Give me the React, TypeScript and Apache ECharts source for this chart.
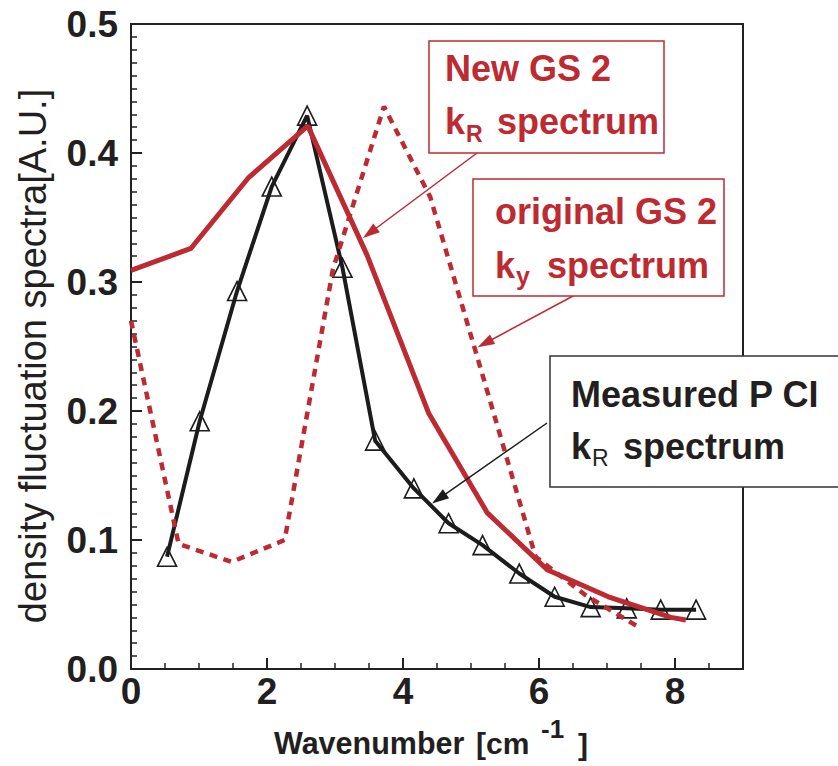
import React, { useEffect, useRef } from 'react';
import * as echarts from 'echarts';

// Measured PCI kR spectrum (black, triangles)
const measuredX = [0.53, 1.01, 1.56, 2.07, 2.59, 3.11, 3.59, 4.16, 4.67, 5.17, 5.71, 6.23, 6.76, 7.29, 7.79, 8.31];
const measuredY = [0.087, 0.192, 0.293, 0.374, 0.429, 0.311, 0.177, 0.140, 0.113, 0.096, 0.074, 0.056, 0.048, 0.047, 0.046, 0.046];

// New GS2 kR spectrum (red solid)
const newGs2X = [0, 0.88, 1.73, 2.60, 3.47, 4.38, 5.24, 6.12, 7.02, 7.94, 8.16];
const newGs2Y = [0.309, 0.326, 0.381, 0.421, 0.321, 0.198, 0.121, 0.077, 0.056, 0.040, 0.038];

// original GS2 ky spectrum (red dotted)
const origGs2X = [0, 0.70, 1.48, 2.26, 2.97, 3.72, 4.40, 5.18, 5.95, 6.69, 7.45];
const origGs2Y = [0.270, 0.097, 0.083, 0.100, 0.310, 0.436, 0.366, 0.226, 0.087, 0.057, 0.033];

// annotation arrow tips (data coords)
const arrowTipNew = [3.511, 0.338];
const arrowTipOrig = [5.207, 0.2525];
const arrowTipMeasured = [4.53, 0.1321];

const xTickLabels = ['0', '2', '4', '6', '8'];
const yTickLabels = ['0.0', '0.1', '0.2', '0.3', '0.4', '0.5'];

const RED = '#be2a32';
const INK = '#231f20';
const FONT = 'Liberation Sans, Arial, sans-serif';

export default function App() {
  const ref = useRef<HTMLDivElement>(null);
  useEffect(() => {
    if (!ref.current) return;
    const chart = echarts.init(ref.current, undefined, { renderer: 'svg' });
    const pair = (xs: number[], ys: number[]) => xs.map((x, i) => [x, ys[i]]);
    const boldText = (text: string, x: number, y: number, size: number, fill: string, weight = 'bold') => ({
      type: 'text',
      x,
      y,
      z: 101,
      style: {
        text,
        fontSize: size,
        fontWeight: weight,
        fontFamily: FONT,
        fill,
        textAlign: 'left',
        textVerticalAlign: 'middle',
      },
    });
    const option: any = {
      animation: false,
      backgroundColor: '#ffffff',
      grid: {
        left: 131,
        right: 95,
        top: 24,
        bottom: 97,
        show: true,
        borderColor: '#222',
        borderWidth: 2,
        backgroundColor: 'transparent',
      },
      xAxis: [
        {
          type: 'value',
          position: 'bottom',
          min: 0,
          max: 9,
          interval: 2,
          axisLine: { show: true, onZero: false, lineStyle: { color: '#222', width: 2 } },
          axisTick: { show: true, inside: true, length: 11, lineStyle: { color: '#222', width: 2 } },
          axisLabel: {
            show: true,
            margin: 4,
            showMaxLabel: false,
            fontSize: 37,
            fontWeight: 'bold',
            fontFamily: FONT,
            color: INK,
            formatter: (v: number) => xTickLabels[Math.round(v / 2)] ?? '',
          },
          splitLine: { show: false },
        },
        {
          type: 'value',
          position: 'bottom',
          min: 0,
          max: 9,
          interval: 0.5,
          axisLine: { show: false },
          axisTick: { show: true, inside: true, length: 6, lineStyle: { color: '#222', width: 1.5 } },
          axisLabel: { show: false },
          splitLine: { show: false },
        },
      ],
      yAxis: {
        type: 'value',
        min: 0,
        max: 0.5,
        interval: 0.1,
        axisLine: { show: true, onZero: false, lineStyle: { color: '#222', width: 2 } },
        axisTick: { show: true, inside: true, length: 11, lineStyle: { color: '#222', width: 2 } },
        minorTick: { show: true, splitNumber: 10, length: 6, lineStyle: { color: '#222', width: 1.5 } },
        axisLabel: {
          margin: 13,
          fontSize: 37,
          fontWeight: 'bold',
          fontFamily: FONT,
          color: INK,
          formatter: (v: number) => yTickLabels[Math.round(v * 10)] ?? '',
        },
        splitLine: { show: false },
      },
      series: [
        {
          type: 'line',
          name: 'Measured PCI kR spectrum',
          xAxisIndex: 0,
          data: pair(measuredX, measuredY),
          symbol: 'triangle',
          symbolSize: [19, 19],
          showSymbol: true,
          showAllSymbol: true,
          lineStyle: { color: '#1c1c1c', width: 4 },
          itemStyle: { color: 'rgba(0,0,0,0)', borderColor: '#1c1c1c', borderWidth: 1.6 },
          z: 2,
          markLine: {
            silent: true,
            animation: false,
            symbol: ['none', 'triangle'],
            symbolSize: [11, 17],
            label: { show: false },
            lineStyle: { color: '#1c1c1c', width: 1.5, type: 'solid' },
            data: [[{ x: 547, y: 423 }, { coord: arrowTipMeasured }]],
          },
        },
        {
          type: 'line',
          name: 'New GS2 kR spectrum',
          xAxisIndex: 0,
          data: pair(newGs2X, newGs2Y),
          symbol: 'none',
          lineStyle: { color: RED, width: 5 },
          z: 3,
          markLine: {
            silent: true,
            animation: false,
            symbol: ['none', 'triangle'],
            symbolSize: [11, 17],
            label: { show: false },
            lineStyle: { color: RED, width: 1.5, type: 'solid' },
            data: [[{ x: 477, y: 153 }, { coord: arrowTipNew }]],
          },
        },
        {
          type: 'line',
          name: 'original GS2 ky spectrum',
          xAxisIndex: 0,
          data: pair(origGs2X, origGs2Y),
          symbol: 'none',
          lineStyle: { color: RED, width: 4.5, type: [8, 6.5] },
          z: 4,
          markLine: {
            silent: true,
            animation: false,
            symbol: ['none', 'triangle'],
            symbolSize: [11, 17],
            label: { show: false },
            lineStyle: { color: RED, width: 1.5, type: 'solid' },
            data: [[{ x: 573, y: 296 }, { coord: arrowTipOrig }]],
          },
        },
      ],
      graphic: [
        // y axis title
        {
          type: 'text',
          x: 33,
          y: 356,
          rotation: Math.PI / 2,
          z: 100,
          style: {
            text: 'density fluctuation spectra[A.U.]',
            fontSize: 38,
            fontFamily: FONT,
            fill: INK,
            textAlign: 'center',
            textVerticalAlign: 'middle',
          },
        },
        // x axis title
        boldText('Wavenumber', 274, 743, 30.5, INK),
        boldText('[cm', 476, 743, 30, INK),
        boldText('-1', 541, 729, 26, INK),
        boldText(']', 578, 744, 30, INK),
        // box 1
        {
          type: 'rect',
          z: 100,
          shape: { x: 429, y: 41, width: 235, height: 112 },
          style: { fill: '#fff', stroke: RED, lineWidth: 1.5 },
        },
        boldText('New GS 2', 445, 68, 36, RED),
        boldText('k', 445, 121, 36, RED),
        boldText('R', 466, 134, 23, RED),
        boldText('spectrum', 497, 121, 36, RED),
        // box 2
        {
          type: 'rect',
          z: 100,
          shape: { x: 473, y: 179, width: 251, height: 117 },
          style: { fill: '#fff', stroke: RED, lineWidth: 1.5 },
        },
        boldText('original GS 2', 495, 211, 36, RED),
        boldText('k', 495, 265, 36, RED),
        boldText('y', 516, 276, 25, RED),
        boldText('spectrum', 547, 265, 36, RED),
        // box 3
        {
          type: 'rect',
          z: 100,
          shape: { x: 550, y: 356, width: 300, height: 131 },
          style: { fill: '#fff', stroke: '#333', lineWidth: 1.5 },
        },
        boldText('Measured P CI', 571, 394, 36, INK),
        boldText('k', 571, 446, 36, INK),
        boldText('R', 592, 458, 23, INK, 'normal'),
        boldText('spectrum', 623, 446, 36, INK),
      ],
    };
    chart.setOption(option);
    return () => chart.dispose();
  }, []);
  return (
    <div
      ref={ref}
      style={{ position: 'absolute', left: 0, top: 0, width: 838, height: 766, background: '#fff' }}
    />
  );
}
